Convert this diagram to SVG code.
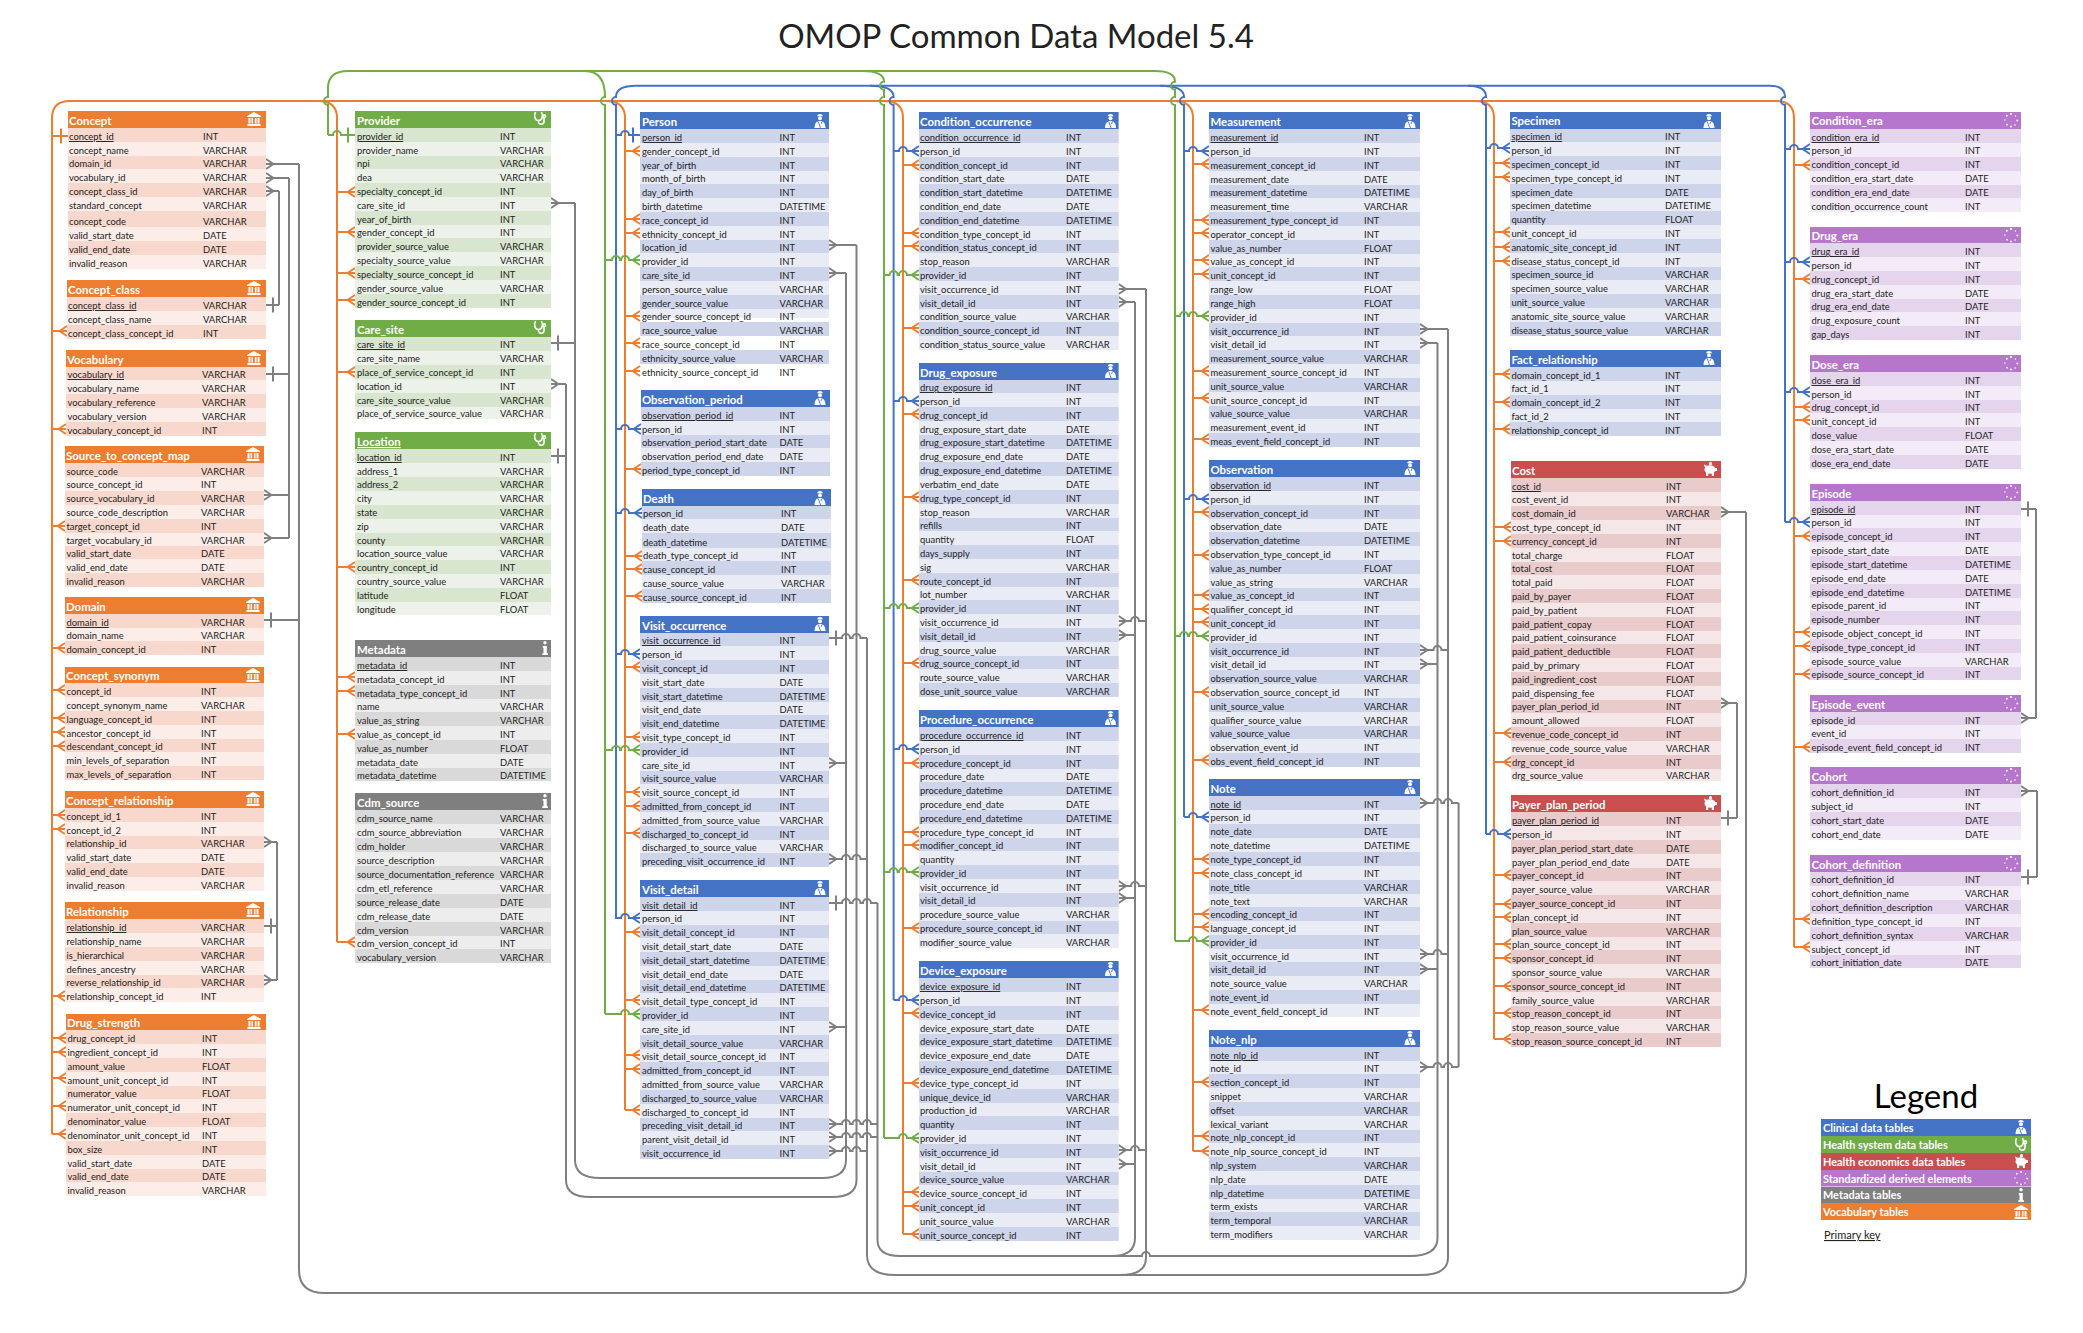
<svg xmlns="http://www.w3.org/2000/svg" width="2083" height="1333" viewBox="0 0 2083 1333">
<style>
text{font-family:Lato,"Noto Sans","Liberation Sans",sans-serif;fill:#222}
.nm text,.ty text{font-size:9.4px}
.u{text-decoration:underline}
.ht{font-size:11.4px;font-weight:700;fill:#fff}
#legend .ht{font-size:10.9px}
.or .hd{fill:#ED7D31}.or .lt{fill:#FCEDE8}.or .dk{fill:#F8D8CC}
.gr .hd{fill:#70AD47}.gr .lt{fill:#ECF2E9}.gr .dk{fill:#D8E5CF}
.bl .hd{fill:#4472C4}.bl .lt{fill:#E9EBF5}.bl .dk{fill:#CED4EA}
.gy .hd{fill:#7F7F7F}.gy .lt{fill:#EDEDED}.gy .dk{fill:#D9D9D9}
.rd .hd{fill:#C94F4F}.rd .lt{fill:#F5E7E7}.rd .dk{fill:#E9CBCC}
.pu .hd{fill:#B576CC}.pu .lt{fill:#F3EBF7}.pu .dk{fill:#E4D5ED}
.c path{fill:none;stroke-width:2}
.o path{stroke:#ED7D31}.b path{stroke:#4472C4}.g path{stroke:#70AD47}.k path{stroke:#7F7F7F}
.o.f path{marker-end:url(#fo)}.o.t path{marker-end:url(#to)}
.b.f path{marker-end:url(#fb)}.b.t path{marker-end:url(#tb)}
.g.f path{marker-end:url(#fg)}.g.t path{marker-end:url(#tg)}
.k.f path{marker-end:url(#fk)}.k.t path{marker-end:url(#tk)}
</style>
<defs>
<marker id="fo" markerUnits="userSpaceOnUse" markerWidth="20" markerHeight="20" refX="18" refY="10" orient="auto"><path d="M10.5 10L18 5M10.5 10L18 15" fill="none" stroke="#ED7D31" stroke-width="2"/></marker>
<marker id="fb" markerUnits="userSpaceOnUse" markerWidth="20" markerHeight="20" refX="18" refY="10" orient="auto"><path d="M10.5 10L18 5M10.5 10L18 15" fill="none" stroke="#4472C4" stroke-width="2"/></marker>
<marker id="fg" markerUnits="userSpaceOnUse" markerWidth="20" markerHeight="20" refX="18" refY="10" orient="auto"><path d="M10.5 10L18 5M10.5 10L18 15" fill="none" stroke="#70AD47" stroke-width="2"/></marker>
<marker id="fk" markerUnits="userSpaceOnUse" markerWidth="20" markerHeight="20" refX="18" refY="10" orient="auto"><path d="M10.5 10L18 5M10.5 10L18 15" fill="none" stroke="#7F7F7F" stroke-width="2"/></marker>
<marker id="to" markerUnits="userSpaceOnUse" markerWidth="20" markerHeight="20" refX="18" refY="10" orient="auto"><path d="M11 2.5V17.5" fill="none" stroke="#ED7D31" stroke-width="2"/></marker>
<marker id="tb" markerUnits="userSpaceOnUse" markerWidth="20" markerHeight="20" refX="18" refY="10" orient="auto"><path d="M11 2.5V17.5" fill="none" stroke="#4472C4" stroke-width="2"/></marker>
<marker id="tg" markerUnits="userSpaceOnUse" markerWidth="20" markerHeight="20" refX="18" refY="10" orient="auto"><path d="M11 2.5V17.5" fill="none" stroke="#70AD47" stroke-width="2"/></marker>
<marker id="tk" markerUnits="userSpaceOnUse" markerWidth="20" markerHeight="20" refX="18" refY="10" orient="auto"><path d="M11 2.5V17.5" fill="none" stroke="#7F7F7F" stroke-width="2"/></marker>
<g id="ibank" fill="#fff"><path d="M7 0L14 4V5H0V4Z"/><path d="M1.5 6h2v5.5h-2zM4.5 6h1.6v5.5H4.500zM7.900 6h1.600v5.500H7.900zM10.500 6h2v5.500h-2zM.5 12h13v2H.5z"/></g>
<g id="isteth" fill="none" stroke="#fff" stroke-width="1.600"><path d="M2.500 1C.5 5 2 9.500 5.500 9.500S10.500 5 8.500 1"/><path d="M5.500 9.500V11c0 3 5.500 3 5.500-.5V7"/><circle cx="11.200" cy="5.200" r="1.300"/></g>
<g id="idoc" fill="#fff"><path d="M4.200 2.200C4.200-.6 9.800-.6 9.800 2.200z"/><circle cx="7" cy="4.300" r="2"/><path d="M7 7C3.500 7 1.600 9.500 1.500 14H12.500C12.400 9.500 10.500 7 7 7z"/><path d="M5.200 7.500L7.500 14M9 7.500L8 10" fill="none" stroke="#4472C4" stroke-width=".9"/></g>
<g id="iinfo" fill="#fff"><circle cx="7" cy="1.800" r="1.700"/><path d="M4.800 5H8.800V12.300H10V14H4.300V12.300H5.500V6.700H4.800z"/></g>
<g id="ipig" fill="#fff"><ellipse cx="7" cy="7.500" rx="5.500" ry="4.300"/><circle cx="7.500" cy="1.700" r="1.600"/><path d="M3 10h2.200v4H3zM8.800 10H11v4H8.800zM11 6h3v3h-3zM1 2.500L4.500 4 2 6z"/></g>
<g id="idots" fill="#fff"><circle cx="7" cy="1" r="1.100"/><circle cx="11.500" cy="3" r=".7"/><circle cx="13.300" cy="7.500" r="1"/><circle cx="11" cy="12" r=".8"/><circle cx="7" cy="13.500" r="1.100"/><circle cx="3" cy="11.700" r=".9"/><circle cx=".9" cy="7" r=".7"/><circle cx="2.800" cy="2.800" r="1"/></g>
</defs>
<rect width="2083" height="1333" fill="#fff"/>
<text x="1016" y="48" text-anchor="middle" style="font-size:33px">OMOP Common Data Model 5.4</text>

<g id="connectors" class="c">
<g class="k">
<path d="M299 164V1270Q299 1293 325 1293H1722Q1746 1293 1746 1272V512"/>
<path d="M289 178V538"/><path d="M279 191V305"/><path d="M277 842V980"/>
<path d="M575 203V1160Q575 1178 600 1178H822Q846 1178 846 1160V273"/>
<path d="M566 384V1180Q566 1197 590 1197H832Q856.500 1197 856.500 1180V245"/>
<path d="M867 638V1255Q867 1275 895 1275H1420Q1448 1275 1448 1258V329"/>
<path d="M1120 1275Q1146 1275 1146 1258V289"/>
<path d="M877.500 903V1240Q877.500 1256 900 1256H1142a4 4 0 0 1 8 0H1410Q1437.500 1256 1437.500 1238V343"/>
<path d="M1112 1256Q1135 1256 1135 1238V302"/>
<path d="M1458.600 803V1067"/><path d="M1737 703V818"/><path d="M2036 509V718"/><path d="M2037 791V877"/>
</g>
<g class="k f">
<path d="M299 164H266"/><path d="M1746 512H1721"/>
<path d="M289 178H266"/><path d="M289 495H264"/><path d="M289 538H264"/>
<path d="M279 191H266"/><path d="M277 842H264"/><path d="M277 980H264"/>
<path d="M575 203H551"/><path d="M846 273H829"/><path d="M846 763H829"/><path d="M846 1027H829"/>
<path d="M566 384H551"/><path d="M856.500 245H829"/>
<path d="M867 859H860.500a4 4 0 0 0-8 0H850a4 4 0 0 0-8 0H829"/>
<path d="M867 1151H860.500a4 4 0 0 0-8 0H850a4 4 0 0 0-8 0H829"/>
<path d="M877.500 1124H871a4 4 0 0 0-8 0H860.500a4 4 0 0 0-8 0H850a4 4 0 0 0-8 0H829"/>
<path d="M877.500 1137H871a4 4 0 0 0-8 0H860.500a4 4 0 0 0-8 0H850a4 4 0 0 0-8 0H829"/>
<path d="M1146 289H1118.600"/><path d="M1135 302H1118.600"/>
<path d="M1146 621H1139a4 4 0 0 0-8 0H1118.600"/><path d="M1135 635H1118.600"/>
<path d="M1146 886H1139a4 4 0 0 0-8 0H1118.600"/><path d="M1135 898H1118.600"/>
<path d="M1146 1150H1139a4 4 0 0 0-8 0H1118.600"/><path d="M1135 1164H1118.600"/>
<path d="M1448 329H1420"/><path d="M1437.500 343H1420"/>
<path d="M1448 650H1441.500a4 4 0 0 0-8 0H1420"/><path d="M1437.500 664H1420"/>
<path d="M1448 954H1441.500a4 4 0 0 0-8 0H1420"/><path d="M1437.500 969H1420"/>
<path d="M1458.600 803H1452a4 4 0 0 0-8 0H1441.500a4 4 0 0 0-8 0H1420"/>
<path d="M1458.600 1067H1452a4 4 0 0 0-8 0H1441.500a4 4 0 0 0-8 0H1420"/>
<path d="M1737 703H1721"/><path d="M2036 718H2021"/><path d="M2037 791H2021"/>
</g>
<g class="k t">
<path d="M299 620H264"/><path d="M289 374H266"/><path d="M279 305H266"/><path d="M277 926H264"/>
<path d="M575 343H551"/><path d="M566 456H551"/>
<path d="M867 638H860.500a4 4 0 0 0-8 0H850a4 4 0 0 0-8 0H829"/>
<path d="M877.500 903H871a4 4 0 0 0-8 0H860.500a4 4 0 0 0-8 0H850a4 4 0 0 0-8 0H829"/>
<path d="M1737 818H1721"/><path d="M2036 509H2021"/><path d="M2037 877H2021"/>
</g>
<g class="o">
<path d="M52 1134V118Q52 101 70 101H1775Q1794 101 1794 118V947"/>
<path d="M318 101Q337 101 337 118V942"/><path d="M606 101Q625 101 625 118V1110"/>
<path d="M884 101Q903 101 903 118V1234"/><path d="M1174 101Q1193 101 1193 118V1151"/>
<path d="M1475 101Q1494 101 1494 118V1039"/>
</g>
<g class="o t"><path d="M52 136H68"/></g>
<g class="o f">
<path d="M52 331H67"/><path d="M52 429H66"/><path d="M52 526H65"/><path d="M52 648H65"/><path d="M52 690H65"/><path d="M52 718H65"/><path d="M52 732H65"/><path d="M52 746H65"/><path d="M52 815H65"/><path d="M52 829H65"/><path d="M52 996H65"/><path d="M52 1038H66"/><path d="M52 1052H66"/><path d="M52 1078H66"/><path d="M52 1106H66"/><path d="M52 1134H66"/>
<path d="M337 192H355"/><path d="M337 232H355"/><path d="M337 273H355"/><path d="M337 300H355"/><path d="M337 372H355"/><path d="M337 567H355"/><path d="M337 677H355"/><path d="M337 691H355"/><path d="M337 734H355"/><path d="M337 942H355"/>
<path d="M625 151H640"/><path d="M625 219H640"/><path d="M625 233H640"/><path d="M625 316H640"/><path d="M625 343H640"/><path d="M625 371H640"/><path d="M625 469H641"/><path d="M625 556H642"/><path d="M625 569H642"/><path d="M625 596H642"/><path d="M625 667H640"/><path d="M625 737H640"/><path d="M625 792H640"/><path d="M625 806H640"/><path d="M625 833H640"/><path d="M625 932H640"/><path d="M625 1000H640"/><path d="M625 1055H640"/><path d="M625 1069H640"/><path d="M625 1110H640"/>
<path d="M903 165H919"/><path d="M903 233H919"/><path d="M903 246H919"/><path d="M903 328H919"/><path d="M903 414H919"/><path d="M903 497H919"/><path d="M903 580H919"/><path d="M903 663H919"/><path d="M903 763H919"/><path d="M903 832H919"/><path d="M903 845H919"/><path d="M903 928H919"/><path d="M903 1013H919"/><path d="M903 1083H919"/><path d="M903 1192H919"/><path d="M903 1206H919"/><path d="M903 1234H919"/>
<path d="M1193 164H1209"/><path d="M1193 220H1209"/><path d="M1193 233H1209"/><path d="M1193 260H1209"/><path d="M1193 274H1209"/><path d="M1193 371H1209"/><path d="M1193 398H1209"/><path d="M1193 439H1209"/><path d="M1193 512H1209"/><path d="M1193 555H1209"/><path d="M1193 595H1209"/><path d="M1193 609H1209"/><path d="M1193 622H1209"/><path d="M1193 692H1209"/><path d="M1193 760H1209"/><path d="M1193 859H1209"/><path d="M1193 873H1209"/><path d="M1193 914H1209"/><path d="M1193 927H1209"/><path d="M1193 1010H1209"/><path d="M1193 1082H1209"/><path d="M1193 1136H1209"/><path d="M1193 1151H1209"/>
<path d="M1494 163H1510"/><path d="M1494 177H1510"/><path d="M1494 232H1510"/><path d="M1494 247H1510"/><path d="M1494 261H1510"/><path d="M1494 374H1510"/><path d="M1494 402H1510"/><path d="M1494 429H1510"/><path d="M1494 527H1511"/><path d="M1494 541H1511"/><path d="M1494 733H1511"/><path d="M1494 762H1511"/><path d="M1494 875H1511"/><path d="M1494 904H1511"/><path d="M1494 917H1511"/><path d="M1494 944H1511"/><path d="M1494 958H1511"/><path d="M1494 986H1511"/><path d="M1494 1013H1511"/><path d="M1494 1039H1511"/>
<path d="M1794 165H1810"/><path d="M1794 279H1810"/><path d="M1794 407H1810"/><path d="M1794 420H1810"/><path d="M1794 536H1810"/><path d="M1794 632H1810"/><path d="M1794 646H1810"/><path d="M1794 674H1810"/><path d="M1794 747H1810"/><path d="M1794 919H1810"/><path d="M1794 947H1810"/>
</g>
<g class="b">
<path d="M616 919V105a4 4 0 0 1 0-8Q616 85.700 636 85.700H1770Q1785 85.700 1785 97a4 4 0 0 0 0 8V522"/>
<path d="M870 85.700Q893.600 85.700 893.600 97a4 4 0 0 0 0 8V1000"/>
<path d="M1160 85.700Q1184 85.700 1184 97a4 4 0 0 0 0 8V817"/>
<path d="M1468 85.700Q1486 85.700 1486 97a4 4 0 0 0 0 8V834"/>
</g>
<g class="b t"><path d="M616 135H621a4 4 0 0 1 8 0H640"/></g>
<g class="b f">
<path d="M616 429H621a4 4 0 0 1 8 0H641"/><path d="M616 513H621a4 4 0 0 1 8 0H642"/><path d="M616 654H621a4 4 0 0 1 8 0H640"/><path d="M616 918H621a4 4 0 0 1 8 0H640"/>
<path d="M893.600 151H899a4 4 0 0 1 8 0H919"/><path d="M893.600 401H899a4 4 0 0 1 8 0H919"/><path d="M893.600 749H899a4 4 0 0 1 8 0H919"/><path d="M893.600 1000H899a4 4 0 0 1 8 0H919"/>
<path d="M1184 151H1189a4 4 0 0 1 8 0H1209"/><path d="M1184 499H1189a4 4 0 0 1 8 0H1209"/><path d="M1184 817H1189a4 4 0 0 1 8 0H1209"/>
<path d="M1486 148H1490a4 4 0 0 1 8 0H1510"/><path d="M1486 834H1490a4 4 0 0 1 8 0H1511"/>
<path d="M1785 149H1790a4 4 0 0 1 8 0H1810"/><path d="M1785 262H1790a4 4 0 0 1 8 0H1810"/><path d="M1785 392H1790a4 4 0 0 1 8 0H1810"/><path d="M1785 522H1790a4 4 0 0 1 8 0H1810"/>
</g>
<g class="g">
<path d="M328 135V105a4 4 0 0 1 0-8V88Q328 71 348 71H1155Q1175 71 1175 81.700a4 4 0 0 0 0 8V97a4 4 0 0 0 0 8V941"/>
<path d="M585 71Q605 71 605 97a4 4 0 0 0 0 8V1014"/>
<path d="M862 71Q884 71 884 81.700a4 4 0 0 0 0 8V97a4 4 0 0 0 0 8V1138"/>
</g>
<g class="g t"><path d="M328 135H333a4 4 0 0 1 8 0H355"/></g>
<g class="g f">
<path d="M605 260H612a4 4 0 0 1 8 0H621a4 4 0 0 1 8 0H640"/><path d="M605 750H612a4 4 0 0 1 8 0H621a4 4 0 0 1 8 0H640"/><path d="M605 1014H621a4 4 0 0 1 8 0H640"/>
<path d="M884 275H889.600a4 4 0 0 1 8 0H899a4 4 0 0 1 8 0H919"/><path d="M884 608H889.600a4 4 0 0 1 8 0H899a4 4 0 0 1 8 0H919"/><path d="M884 872H889.600a4 4 0 0 1 8 0H899a4 4 0 0 1 8 0H919"/><path d="M884 1138H899a4 4 0 0 1 8 0H919"/>
<path d="M1175 316H1180a4 4 0 0 1 8 0H1189a4 4 0 0 1 8 0H1209"/><path d="M1175 636H1180a4 4 0 0 1 8 0H1189a4 4 0 0 1 8 0H1209"/><path d="M1175 941H1189a4 4 0 0 1 8 0H1209"/>
</g>
</g>

<g id="concept" class="or"><rect class="hd" x="68" y="111" width="198" height="17"/><text class="ht" x="69" y="125">Concept</text><use href="#ibank" x="247" y="112"/><rect class="lt" x="68" y="128" width="198" height="141"/><path class="dk" d="M68 128H266V142H68ZM68 156H266V169H68ZM68 183H266V197H68ZM68 211H266V227H68ZM68 241H266V255H68Z"/>
<g class="nm" transform="translate(69)"><text y="140" class="u">concept_id</text><text y="154">concept_name</text><text y="167">domain_id</text><text y="181">vocabulary_id</text><text y="195">concept_class_id</text><text y="209">standard_concept</text><text y="225">concept_code</text><text y="239">valid_start_date</text><text y="253">valid_end_date</text><text y="267">invalid_reason</text></g>
<g class="ty" transform="translate(203)"><text y="140">INT</text><text y="154">VARCHAR</text><text y="167">VARCHAR</text><text y="181">VARCHAR</text><text y="195">VARCHAR</text><text y="209">VARCHAR</text><text y="225">VARCHAR</text><text y="239">DATE</text><text y="253">DATE</text><text y="267">VARCHAR</text></g></g>

<g id="concept_class" class="or"><rect class="hd" x="67" y="280" width="199" height="17"/><text class="ht" x="68" y="294">Concept_class</text><use href="#ibank" x="247" y="281"/><rect class="lt" x="67" y="297" width="199" height="42"/><path class="dk" d="M67 297H266V311H67ZM67 325H266V339H67Z"/>
<g class="nm" transform="translate(68)"><text y="309" class="u">concept_class_id</text><text y="323">concept_class_name</text><text y="337">concept_class_concept_id</text></g>
<g class="ty" transform="translate(203)"><text y="309">VARCHAR</text><text y="323">VARCHAR</text><text y="337">INT</text></g></g>

<g id="vocabulary" class="or"><rect class="hd" x="66" y="350" width="200" height="17"/><text class="ht" x="67" y="364">Vocabulary</text><use href="#ibank" x="247" y="351"/><rect class="lt" x="66" y="367" width="200" height="69"/><path class="dk" d="M66 367H266V380H66ZM66 394H266V408H66ZM66 422H266V436H66Z"/>
<g class="nm" transform="translate(67.500)"><text y="378" class="u">vocabulary_id</text><text y="392">vocabulary_name</text><text y="406">vocabulary_reference</text><text y="420">vocabulary_version</text><text y="434">vocabulary_concept_id</text></g>
<g class="ty" transform="translate(202)"><text y="378">VARCHAR</text><text y="392">VARCHAR</text><text y="406">VARCHAR</text><text y="420">VARCHAR</text><text y="434">INT</text></g></g>

<g id="source_to_concept_map" class="or"><rect class="hd" x="65" y="446" width="199" height="17"/><text class="ht" x="66" y="460">Source_to_concept_map</text><use href="#ibank" x="246" y="447"/><rect class="lt" x="65" y="463" width="199" height="124"/><path class="dk" d="M65 463H264V477H65ZM65 491H264V505H65ZM65 519H264V533H65ZM65 546H264V559H65ZM65 573H264V587H65Z"/>
<g class="nm" transform="translate(66.500)"><text y="475">source_code</text><text y="488">source_concept_id</text><text y="502">source_vocabulary_id</text><text y="516">source_code_description</text><text y="530">target_concept_id</text><text y="544">target_vocabulary_id</text><text y="557">valid_start_date</text><text y="571">valid_end_date</text><text y="585">invalid_reason</text></g>
<g class="ty" transform="translate(201)"><text y="475">VARCHAR</text><text y="488">INT</text><text y="502">VARCHAR</text><text y="516">VARCHAR</text><text y="530">INT</text><text y="544">VARCHAR</text><text y="557">DATE</text><text y="571">DATE</text><text y="585">VARCHAR</text></g></g>

<g id="domain" class="or"><rect class="hd" x="65" y="597" width="199" height="17"/><text class="ht" x="66" y="611">Domain</text><use href="#ibank" x="246" y="598"/><rect class="lt" x="65" y="614" width="199" height="41"/><path class="dk" d="M65 614H264V628H65ZM65 641H264V655H65Z"/>
<g class="nm" transform="translate(66.500)"><text y="626" class="u">domain_id</text><text y="639">domain_name</text><text y="653">domain_concept_id</text></g>
<g class="ty" transform="translate(201)"><text y="626">VARCHAR</text><text y="639">VARCHAR</text><text y="653">INT</text></g></g>

<g id="concept_synonym" class="or"><rect class="hd" x="65" y="667" width="199" height="16"/><text class="ht" x="66" y="680">Concept_synonym</text><use href="#ibank" x="246" y="668"/><rect class="lt" x="65" y="683" width="199" height="97"/><path class="dk" d="M65 683H264V697H65ZM65 711H264V725H65ZM65 739H264V752H65ZM65 766H264V780H65Z"/>
<g class="nm" transform="translate(66.500)"><text y="695">concept_id</text><text y="709">concept_synonym_name</text><text y="723">language_concept_id</text><text y="737">ancestor_concept_id</text><text y="750">descendant_concept_id</text><text y="764">min_levels_of_separation</text><text y="778">max_levels_of_separation</text></g>
<g class="ty" transform="translate(201)"><text y="695">INT</text><text y="709">VARCHAR</text><text y="723">INT</text><text y="737">INT</text><text y="750">INT</text><text y="764">INT</text><text y="778">INT</text></g></g>

<g id="concept_relationship" class="or"><rect class="hd" x="65" y="791" width="199" height="17"/><text class="ht" x="66" y="805">Concept_relationship</text><use href="#ibank" x="246" y="792"/><rect class="lt" x="65" y="808" width="199" height="83"/><path class="dk" d="M65 808H264V822H65ZM65 836H264V849H65ZM65 863H264V877H65Z"/>
<g class="nm" transform="translate(66.500)"><text y="820">concept_id_1</text><text y="834">concept_id_2</text><text y="847">relationship_id</text><text y="861">valid_start_date</text><text y="875">valid_end_date</text><text y="889">invalid_reason</text></g>
<g class="ty" transform="translate(201)"><text y="820">INT</text><text y="834">INT</text><text y="847">VARCHAR</text><text y="861">DATE</text><text y="875">DATE</text><text y="889">VARCHAR</text></g></g>

<g id="relationship" class="or"><rect class="hd" x="65" y="902" width="199" height="17"/><text class="ht" x="66" y="916">Relationship</text><use href="#ibank" x="246" y="903"/><rect class="lt" x="65" y="919" width="199" height="83"/><path class="dk" d="M65 919H264V933H65ZM65 947H264V961H65ZM65 975H264V988H65Z"/>
<g class="nm" transform="translate(66.500)"><text y="931" class="u">relationship_id</text><text y="945">relationship_name</text><text y="959">is_hierarchical</text><text y="973">defines_ancestry</text><text y="986">reverse_relationship_id</text><text y="1000">relationship_concept_id</text></g>
<g class="ty" transform="translate(201)"><text y="931">VARCHAR</text><text y="945">VARCHAR</text><text y="959">VARCHAR</text><text y="973">VARCHAR</text><text y="986">VARCHAR</text><text y="1000">INT</text></g></g>

<g id="drug_strength" class="or"><rect class="hd" x="66" y="1014" width="200" height="16"/><text class="ht" x="67" y="1027">Drug_strength</text><use href="#ibank" x="247" y="1015"/><rect class="lt" x="66" y="1030" width="200" height="166"/><path class="dk" d="M66 1030H266V1044H66ZM66 1058H266V1072H66ZM66 1086H266V1099H66ZM66 1113H266V1127H66ZM66 1141H266V1155H66ZM66 1169H266V1182H66Z"/>
<g class="nm" transform="translate(67.500)"><text y="1042">drug_concept_id</text><text y="1056">ingredient_concept_id</text><text y="1070">amount_value</text><text y="1084">amount_unit_concept_id</text><text y="1097">numerator_value</text><text y="1111">numerator_unit_concept_id</text><text y="1125">denominator_value</text><text y="1139">denominator_unit_concept_id</text><text y="1153">box_size</text><text y="1167">valid_start_date</text><text y="1180">valid_end_date</text><text y="1194">invalid_reason</text></g>
<g class="ty" transform="translate(202)"><text y="1042">INT</text><text y="1056">INT</text><text y="1070">FLOAT</text><text y="1084">INT</text><text y="1097">FLOAT</text><text y="1111">INT</text><text y="1125">FLOAT</text><text y="1139">INT</text><text y="1153">INT</text><text y="1167">DATE</text><text y="1180">DATE</text><text y="1194">VARCHAR</text></g></g>

<g id="provider" class="gr"><rect class="hd" x="355" y="111" width="196" height="17"/><text class="ht" x="357" y="125">Provider</text><use href="#isteth" x="533" y="111"/><rect class="lt" x="355" y="128" width="196" height="180"/><path class="dk" d="M355 128H551V142H355ZM355 156H551V169H355ZM355 183H551V197H355ZM355 211H551V225H355ZM355 238H551V252H355ZM355 266H551V280H355ZM355 294H551V308H355Z"/>
<g class="nm" transform="translate(357)"><text y="140" class="u">provider_id</text><text y="154">provider_name</text><text y="167">npi</text><text y="181">dea</text><text y="195">specialty_concept_id</text><text y="209">care_site_id</text><text y="223">year_of_birth</text><text y="236">gender_concept_id</text><text y="250">provider_source_value</text><text y="264">specialty_source_value</text><text y="278">specialty_source_concept_id</text><text y="292">gender_source_value</text><text y="306">gender_source_concept_id</text></g>
<g class="ty" transform="translate(500)"><text y="140">INT</text><text y="154">VARCHAR</text><text y="167">VARCHAR</text><text y="181">VARCHAR</text><text y="195">INT</text><text y="209">INT</text><text y="223">INT</text><text y="236">INT</text><text y="250">VARCHAR</text><text y="264">VARCHAR</text><text y="278">INT</text><text y="292">VARCHAR</text><text y="306">INT</text></g></g>

<g id="care_site" class="gr"><rect class="hd" x="355" y="320" width="196" height="17"/><text class="ht" x="357" y="334">Care_site</text><use href="#isteth" x="533" y="320"/><rect class="lt" x="355" y="337" width="196" height="82"/><path class="dk" d="M355 337H551V351H355ZM355 365H551V379H355ZM355 393H551V407H355Z"/>
<g class="nm" transform="translate(357)"><text y="348" class="u">care_site_id</text><text y="362">care_site_name</text><text y="376">place_of_service_concept_id</text><text y="390">location_id</text><text y="404">care_site_source_value</text><text y="417">place_of_service_source_value</text></g>
<g class="ty" transform="translate(500)"><text y="348">INT</text><text y="362">VARCHAR</text><text y="376">INT</text><text y="390">INT</text><text y="404">VARCHAR</text><text y="417">VARCHAR</text></g></g>

<g id="location" class="gr"><rect class="hd" x="355" y="432" width="196" height="17"/><text class="ht u" x="357" y="446">Location</text><use href="#isteth" x="533" y="432"/><rect class="lt" x="355" y="449" width="196" height="166"/><path class="dk" d="M355 449H551V463H355ZM355 477H551V491H355ZM355 505H551V519H355ZM355 533H551V546H355ZM355 560H551V574H355ZM355 588H551V602H355Z"/>
<g class="nm" transform="translate(357)"><text y="461" class="u">location_id</text><text y="475">address_1</text><text y="488">address_2</text><text y="502">city</text><text y="516">state</text><text y="530">zip</text><text y="544">county</text><text y="557">location_source_value</text><text y="571">country_concept_id</text><text y="585">country_source_value</text><text y="599">latitude</text><text y="613">longitude</text></g>
<g class="ty" transform="translate(500)"><text y="461">INT</text><text y="475">VARCHAR</text><text y="488">VARCHAR</text><text y="502">VARCHAR</text><text y="516">VARCHAR</text><text y="530">VARCHAR</text><text y="544">VARCHAR</text><text y="557">VARCHAR</text><text y="571">INT</text><text y="585">VARCHAR</text><text y="599">FLOAT</text><text y="613">FLOAT</text></g></g>

<g id="metadata" class="gy"><rect class="hd" x="355" y="640" width="196" height="17"/><text class="ht" x="357" y="654">Metadata</text><use href="#iinfo" x="538" y="641"/><rect class="lt" x="355" y="657" width="196" height="124"/><path class="dk" d="M355 657H551V671H355ZM355 685H551V699H355ZM355 712H551V726H355ZM355 740H551V754H355ZM355 768H551V781H355Z"/>
<g class="nm" transform="translate(357)"><text y="669" class="u">metadata_id</text><text y="683">metadata_concept_id</text><text y="697">metadata_type_concept_id</text><text y="710">name</text><text y="724">value_as_string</text><text y="738">value_as_concept_id</text><text y="752">value_as_number</text><text y="766">metadata_date</text><text y="779">metadata_datetime</text></g>
<g class="ty" transform="translate(500)"><text y="669">INT</text><text y="683">INT</text><text y="697">INT</text><text y="710">VARCHAR</text><text y="724">VARCHAR</text><text y="738">INT</text><text y="752">FLOAT</text><text y="766">DATE</text><text y="779">DATETIME</text></g></g>

<g id="cdm_source" class="gy"><rect class="hd" x="355" y="793" width="196" height="17"/><text class="ht" x="357" y="807">Cdm_source</text><use href="#iinfo" x="538" y="794"/><rect class="lt" x="355" y="810" width="196" height="153"/><path class="dk" d="M355 810H551V824H355ZM355 838H551V852H355ZM355 866H551V880H355ZM355 894H551V908H355ZM355 922H551V936H355ZM355 949H551V963H355Z"/>
<g class="nm" transform="translate(357)"><text y="822">cdm_source_name</text><text y="836">cdm_source_abbreviation</text><text y="850">cdm_holder</text><text y="864">source_description</text><text y="878">source_documentation_reference</text><text y="892">cdm_etl_reference</text><text y="906">source_release_date</text><text y="920">cdm_release_date</text><text y="934">cdm_version</text><text y="947">cdm_version_concept_id</text><text y="961">vocabulary_version</text></g>
<g class="ty" transform="translate(500)"><text y="822">VARCHAR</text><text y="836">VARCHAR</text><text y="850">VARCHAR</text><text y="864">VARCHAR</text><text y="878">VARCHAR</text><text y="892">VARCHAR</text><text y="906">DATE</text><text y="920">DATE</text><text y="934">VARCHAR</text><text y="947">INT</text><text y="961">VARCHAR</text></g></g>

<g id="person" class="bl"><rect class="hd" x="640" y="112" width="189" height="17"/><text class="ht" x="642" y="126">Person</text><use href="#idoc" x="813" y="114"/><rect class="lt" x="640" y="129" width="189" height="189"/><path class="dk" d="M640 129H829V143H640ZM640 157H829V171H640ZM640 184H829V198H640ZM640 212H829V226H640ZM640 240H829V253H640ZM640 267H829V281H640ZM640 295H829V309H640ZM640 322H829V336H640ZM640 350H829V364H640Z"/>
<g class="nm" transform="translate(642)"><text y="141" class="u">person_id</text><text y="155">gender_concept_id</text><text y="169">year_of_birth</text><text y="182">month_of_birth</text><text y="196">day_of_birth</text><text y="210">birth_datetime</text><text y="224">race_concept_id</text><text y="238">ethnicity_concept_id</text><text y="251">location_id</text><text y="265">provider_id</text><text y="279">care_site_id</text><text y="293">person_source_value</text><text y="307">gender_source_value</text><text y="320">gender_source_concept_id</text><text y="334">race_source_value</text><text y="348">race_source_concept_id</text><text y="362">ethnicity_source_value</text><text y="376">ethnicity_source_concept_id</text></g>
<g class="ty" transform="translate(779.600)"><text y="141">INT</text><text y="155">INT</text><text y="169">INT</text><text y="182">INT</text><text y="196">INT</text><text y="210">DATETIME</text><text y="224">INT</text><text y="238">INT</text><text y="251">INT</text><text y="265">INT</text><text y="279">INT</text><text y="293">VARCHAR</text><text y="307">VARCHAR</text><text y="320">INT</text><text y="334">VARCHAR</text><text y="348">INT</text><text y="362">VARCHAR</text><text y="376">INT</text></g></g>

<g id="observation_period" class="bl"><rect class="hd" x="641" y="390" width="189" height="17"/><text class="ht" x="642" y="404">Observation_period</text><use href="#idoc" x="813" y="391"/><rect class="lt" x="641" y="407" width="189" height="69"/><path class="dk" d="M641 407H830V421H641ZM641 435H830V448H641ZM641 462H830V476H641Z"/>
<g class="nm" transform="translate(642)"><text y="419" class="u">observation_period_id</text><text y="433">person_id</text><text y="446">observation_period_start_date</text><text y="460">observation_period_end_date</text><text y="474">period_type_concept_id</text></g>
<g class="ty" transform="translate(779.600)"><text y="419">INT</text><text y="433">INT</text><text y="446">DATE</text><text y="460">DATE</text><text y="474">INT</text></g></g>

<g id="death" class="bl"><rect class="hd" x="642" y="489" width="189" height="17"/><text class="ht" x="643" y="503">Death</text><use href="#idoc" x="813" y="491"/><rect class="lt" x="642" y="506" width="189" height="97"/><path class="dk" d="M642 506H831V519H642ZM642 533H831V548H642ZM642 561H831V575H642ZM642 589H831V603H642Z"/>
<g class="nm" transform="translate(643)"><text y="517">person_id</text><text y="531">death_date</text><text y="546">death_datetime</text><text y="559">death_type_concept_id</text><text y="573">cause_concept_id</text><text y="587">cause_source_value</text><text y="601">cause_source_concept_id</text></g>
<g class="ty" transform="translate(781)"><text y="517">INT</text><text y="531">DATE</text><text y="546">DATETIME</text><text y="559">INT</text><text y="573">INT</text><text y="587">VARCHAR</text><text y="601">INT</text></g></g>

<g id="visit_occurrence" class="bl"><rect class="hd" x="640" y="616" width="189" height="17"/><text class="ht" x="642" y="630">Visit_occurrence</text><use href="#idoc" x="813" y="617"/><rect class="lt" x="640" y="633" width="189" height="234"/><path class="dk" d="M640 633H829V646H640ZM640 660H829V674H640ZM640 688H829V702H640ZM640 715H829V729H640ZM640 743H829V757H640ZM640 771H829V784H640ZM640 798H829V812H640ZM640 826H829V840H640ZM640 853H829V867H640Z"/>
<g class="nm" transform="translate(642)"><text y="644" class="u">visit_occurrence_id</text><text y="658">person_id</text><text y="672">visit_concept_id</text><text y="686">visit_start_date</text><text y="700">visit_start_datetime</text><text y="713">visit_end_date</text><text y="727">visit_end_datetime</text><text y="741">visit_type_concept_id</text><text y="755">provider_id</text><text y="769">care_site_id</text><text y="782">visit_source_value</text><text y="796">visit_source_concept_id</text><text y="810">admitted_from_concept_id</text><text y="824">admitted_from_source_value</text><text y="838">discharged_to_concept_id</text><text y="851">discharged_to_source_value</text><text y="865">preceding_visit_occurrence_id</text></g>
<g class="ty" transform="translate(779.600)"><text y="644">INT</text><text y="658">INT</text><text y="672">INT</text><text y="686">DATE</text><text y="700">DATETIME</text><text y="713">DATE</text><text y="727">DATETIME</text><text y="741">INT</text><text y="755">INT</text><text y="769">INT</text><text y="782">VARCHAR</text><text y="796">INT</text><text y="810">INT</text><text y="824">VARCHAR</text><text y="838">INT</text><text y="851">VARCHAR</text><text y="865">INT</text></g></g>

<g id="visit_detail" class="bl"><rect class="hd" x="640" y="880" width="189" height="17"/><text class="ht" x="642" y="894">Visit_detail</text><use href="#idoc" x="813" y="881"/><rect class="lt" x="640" y="897" width="189" height="262"/><path class="dk" d="M640 897H829V911H640ZM640 925H829V938H640ZM640 952H829V966H640ZM640 980H829V993H640ZM640 1007H829V1021H640ZM640 1035H829V1049H640ZM640 1062H829V1076H640ZM640 1090H829V1104H640ZM640 1118H829V1131H640ZM640 1145H829V1159H640Z"/>
<g class="nm" transform="translate(642)"><text y="909" class="u">visit_detail_id</text><text y="922">person_id</text><text y="936">visit_detail_concept_id</text><text y="950">visit_detail_start_date</text><text y="964">visit_detail_start_datetime</text><text y="978">visit_detail_end_date</text><text y="991">visit_detail_end_datetime</text><text y="1005">visit_detail_type_concept_id</text><text y="1019">provider_id</text><text y="1033">care_site_id</text><text y="1047">visit_detail_source_value</text><text y="1060">visit_detail_source_concept_id</text><text y="1074">admitted_from_concept_id</text><text y="1088">admitted_from_source_value</text><text y="1102">discharged_to_source_value</text><text y="1116">discharged_to_concept_id</text><text y="1129">preceding_visit_detail_id</text><text y="1143">parent_visit_detail_id</text><text y="1157">visit_occurrence_id</text></g>
<g class="ty" transform="translate(779.600)"><text y="909">INT</text><text y="922">INT</text><text y="936">INT</text><text y="950">DATE</text><text y="964">DATETIME</text><text y="978">DATE</text><text y="991">DATETIME</text><text y="1005">INT</text><text y="1019">INT</text><text y="1033">INT</text><text y="1047">VARCHAR</text><text y="1060">INT</text><text y="1074">INT</text><text y="1088">VARCHAR</text><text y="1102">VARCHAR</text><text y="1116">INT</text><text y="1129">INT</text><text y="1143">INT</text><text y="1157">INT</text></g></g>

<g id="condition_occurrence" class="bl"><rect class="hd" x="919" y="112" width="199.600" height="17"/><text class="ht" x="920" y="126">Condition_occurrence</text><use href="#idoc" x="1103.500" y="114"/><rect class="lt" x="919" y="129" width="199.600" height="221"/><path class="dk" d="M919 129H1118.600V143H919ZM919 157H1118.600V171H919ZM919 184H1118.600V198H919ZM919 212H1118.600V226H919ZM919 240H1118.600V253H919ZM919 267H1118.600V281H919ZM919 295H1118.600V309H919ZM919 322H1118.600V336H919Z"/>
<g class="nm" transform="translate(920)"><text y="141" class="u">condition_occurrence_id</text><text y="155">person_id</text><text y="169">condition_concept_id</text><text y="182">condition_start_date</text><text y="196">condition_start_datetime</text><text y="210">condition_end_date</text><text y="224">condition_end_datetime</text><text y="238">condition_type_concept_id</text><text y="251">condition_status_concept_id</text><text y="265">stop_reason</text><text y="279">provider_id</text><text y="293">visit_occurrence_id</text><text y="307">visit_detail_id</text><text y="320">condition_source_value</text><text y="334">condition_source_concept_id</text><text y="348">condition_status_source_value</text></g>
<g class="ty" transform="translate(1066)"><text y="141">INT</text><text y="155">INT</text><text y="169">INT</text><text y="182">DATE</text><text y="196">DATETIME</text><text y="210">DATE</text><text y="224">DATETIME</text><text y="238">INT</text><text y="251">INT</text><text y="265">VARCHAR</text><text y="279">INT</text><text y="293">INT</text><text y="307">INT</text><text y="320">VARCHAR</text><text y="334">INT</text><text y="348">VARCHAR</text></g></g>

<g id="drug_exposure" class="bl"><rect class="hd" x="919" y="363" width="199.600" height="17"/><text class="ht" x="920" y="377">Drug_exposure</text><use href="#idoc" x="1103.500" y="364"/><rect class="lt" x="919" y="380" width="199.600" height="317"/><path class="dk" d="M919 380H1118.600V393H919ZM919 407H1118.600V421H919ZM919 435H1118.600V449H919ZM919 462H1118.600V476H919ZM919 490H1118.600V504H919ZM919 518H1118.600V531H919ZM919 545H1118.600V559H919ZM919 573H1118.600V587H919ZM919 600H1118.600V614H919ZM919 628H1118.600V642H919ZM919 656H1118.600V669H919ZM919 683H1118.600V697H919Z"/>
<g class="nm" transform="translate(920)"><text y="391" class="u">drug_exposure_id</text><text y="405">person_id</text><text y="419">drug_concept_id</text><text y="433">drug_exposure_start_date</text><text y="446">drug_exposure_start_datetime</text><text y="460">drug_exposure_end_date</text><text y="474">drug_exposure_end_datetime</text><text y="488">verbatim_end_date</text><text y="502">drug_type_concept_id</text><text y="516">stop_reason</text><text y="529">refills</text><text y="543">quantity</text><text y="557">days_supply</text><text y="571">sig</text><text y="585">route_concept_id</text><text y="598">lot_number</text><text y="612">provider_id</text><text y="626">visit_occurrence_id</text><text y="640">visit_detail_id</text><text y="654">drug_source_value</text><text y="667">drug_source_concept_id</text><text y="681">route_source_value</text><text y="695">dose_unit_source_value</text></g>
<g class="ty" transform="translate(1066)"><text y="391">INT</text><text y="405">INT</text><text y="419">INT</text><text y="433">DATE</text><text y="446">DATETIME</text><text y="460">DATE</text><text y="474">DATETIME</text><text y="488">DATE</text><text y="502">INT</text><text y="516">VARCHAR</text><text y="529">INT</text><text y="543">FLOAT</text><text y="557">INT</text><text y="571">VARCHAR</text><text y="585">INT</text><text y="598">VARCHAR</text><text y="612">INT</text><text y="626">INT</text><text y="640">INT</text><text y="654">VARCHAR</text><text y="667">INT</text><text y="681">VARCHAR</text><text y="695">VARCHAR</text></g></g>

<g id="procedure_occurrence" class="bl"><rect class="hd" x="919" y="710" width="199.600" height="17"/><text class="ht" x="920" y="724">Procedure_occurrence</text><use href="#idoc" x="1103.500" y="711"/><rect class="lt" x="919" y="727" width="199.600" height="221"/><path class="dk" d="M919 727H1118.600V741H919ZM919 755H1118.600V769H919ZM919 782H1118.600V796H919ZM919 810H1118.600V824H919ZM919 838H1118.600V851H919ZM919 865H1118.600V879H919ZM919 893H1118.600V907H919ZM919 921H1118.600V934H919Z"/>
<g class="nm" transform="translate(920)"><text y="739" class="u">procedure_occurrence_id</text><text y="753">person_id</text><text y="767">procedure_concept_id</text><text y="780">procedure_date</text><text y="794">procedure_datetime</text><text y="808">procedure_end_date</text><text y="822">procedure_end_datetime</text><text y="836">procedure_type_concept_id</text><text y="849">modifier_concept_id</text><text y="863">quantity</text><text y="877">provider_id</text><text y="891">visit_occurrence_id</text><text y="904">visit_detail_id</text><text y="918">procedure_source_value</text><text y="932">procedure_source_concept_id</text><text y="946">modifier_source_value</text></g>
<g class="ty" transform="translate(1066)"><text y="739">INT</text><text y="753">INT</text><text y="767">INT</text><text y="780">DATE</text><text y="794">DATETIME</text><text y="808">DATE</text><text y="822">DATETIME</text><text y="836">INT</text><text y="849">INT</text><text y="863">INT</text><text y="877">INT</text><text y="891">INT</text><text y="904">INT</text><text y="918">VARCHAR</text><text y="932">INT</text><text y="946">VARCHAR</text></g></g>

<g id="device_exposure" class="bl"><rect class="hd" x="919" y="961" width="199.600" height="17"/><text class="ht" x="920" y="975">Device_exposure</text><use href="#idoc" x="1103.500" y="962"/><rect class="lt" x="919" y="978" width="199.600" height="263"/><path class="dk" d="M919 978H1118.600V992H919ZM919 1006H1118.600V1020H919ZM919 1034H1118.600V1047H919ZM919 1061H1118.600V1075H919ZM919 1089H1118.600V1103H919ZM919 1116H1118.600V1130H919ZM919 1144H1118.600V1158H919ZM919 1172H1118.600V1185H919ZM919 1199H1118.600V1213H919ZM919 1227H1118.600V1241H919Z"/>
<g class="nm" transform="translate(920)"><text y="990" class="u">device_exposure_id</text><text y="1004">person_id</text><text y="1018">device_concept_id</text><text y="1032">device_exposure_start_date</text><text y="1045">device_exposure_start_datetime</text><text y="1059">device_exposure_end_date</text><text y="1073">device_exposure_end_datetime</text><text y="1087">device_type_concept_id</text><text y="1101">unique_device_id</text><text y="1114">production_id</text><text y="1128">quantity</text><text y="1142">provider_id</text><text y="1156">visit_occurrence_id</text><text y="1170">visit_detail_id</text><text y="1183">device_source_value</text><text y="1197">device_source_concept_id</text><text y="1211">unit_concept_id</text><text y="1225">unit_source_value</text><text y="1239">unit_source_concept_id</text></g>
<g class="ty" transform="translate(1066)"><text y="990">INT</text><text y="1004">INT</text><text y="1018">INT</text><text y="1032">DATE</text><text y="1045">DATETIME</text><text y="1059">DATE</text><text y="1073">DATETIME</text><text y="1087">INT</text><text y="1101">VARCHAR</text><text y="1114">VARCHAR</text><text y="1128">INT</text><text y="1142">INT</text><text y="1156">INT</text><text y="1170">INT</text><text y="1183">VARCHAR</text><text y="1197">INT</text><text y="1211">INT</text><text y="1225">VARCHAR</text><text y="1239">INT</text></g></g>

<g id="measurement" class="bl"><rect class="hd" x="1209" y="112" width="211" height="17"/><text class="ht" x="1210.500" y="126">Measurement</text><use href="#idoc" x="1403" y="114"/><rect class="lt" x="1209" y="129" width="211" height="318"/><path class="dk" d="M1209 129H1420V143H1209ZM1209 157H1420V171H1209ZM1209 185H1420V198H1209ZM1209 212H1420V226H1209ZM1209 240H1420V254H1209ZM1209 267H1420V281H1209ZM1209 295H1420V309H1209ZM1209 323H1420V336H1209ZM1209 350H1420V364H1209ZM1209 378H1420V392H1209ZM1209 406H1420V419H1209ZM1209 433H1420V447H1209Z"/>
<g class="nm" transform="translate(1210.500)"><text y="141" class="u">measurement_id</text><text y="155">person_id</text><text y="169">measurement_concept_id</text><text y="183">measurement_date</text><text y="196">measurement_datetime</text><text y="210">measurement_time</text><text y="224">measurement_type_concept_id</text><text y="238">operator_concept_id</text><text y="252">value_as_number</text><text y="265">value_as_concept_id</text><text y="279">unit_concept_id</text><text y="293">range_low</text><text y="307">range_high</text><text y="321">provider_id</text><text y="335">visit_occurrence_id</text><text y="348">visit_detail_id</text><text y="362">measurement_source_value</text><text y="376">measurement_source_concept_id</text><text y="390">unit_source_value</text><text y="404">unit_source_concept_id</text><text y="417">value_source_value</text><text y="431">measurement_event_id</text><text y="445">meas_event_field_concept_id</text></g>
<g class="ty" transform="translate(1364)"><text y="141">INT</text><text y="155">INT</text><text y="169">INT</text><text y="183">DATE</text><text y="196">DATETIME</text><text y="210">VARCHAR</text><text y="224">INT</text><text y="238">INT</text><text y="252">FLOAT</text><text y="265">INT</text><text y="279">INT</text><text y="293">FLOAT</text><text y="307">FLOAT</text><text y="321">INT</text><text y="335">INT</text><text y="348">INT</text><text y="362">VARCHAR</text><text y="376">INT</text><text y="390">VARCHAR</text><text y="404">INT</text><text y="417">VARCHAR</text><text y="431">INT</text><text y="445">INT</text></g></g>

<g id="observation" class="bl"><rect class="hd" x="1209" y="460" width="211" height="17"/><text class="ht" x="1210.500" y="474">Observation</text><use href="#idoc" x="1403" y="461"/><rect class="lt" x="1209" y="477" width="211" height="290"/><path class="dk" d="M1209 477H1420V491H1209ZM1209 505H1420V519H1209ZM1209 532H1420V546H1209ZM1209 560H1420V574H1209ZM1209 588H1420V601H1209ZM1209 615H1420V629H1209ZM1209 643H1420V657H1209ZM1209 670H1420V684H1209ZM1209 698H1420V712H1209ZM1209 726H1420V739H1209ZM1209 753H1420V767H1209Z"/>
<g class="nm" transform="translate(1210.500)"><text y="489" class="u">observation_id</text><text y="503">person_id</text><text y="517">observation_concept_id</text><text y="530">observation_date</text><text y="544">observation_datetime</text><text y="558">observation_type_concept_id</text><text y="572">value_as_number</text><text y="586">value_as_string</text><text y="599">value_as_concept_id</text><text y="613">qualifier_concept_id</text><text y="627">unit_concept_id</text><text y="641">provider_id</text><text y="655">visit_occurrence_id</text><text y="668">visit_detail_id</text><text y="682">observation_source_value</text><text y="696">observation_source_concept_id</text><text y="710">unit_source_value</text><text y="724">qualifier_source_value</text><text y="737">value_source_value</text><text y="751">observation_event_id</text><text y="765">obs_event_field_concept_id</text></g>
<g class="ty" transform="translate(1364)"><text y="489">INT</text><text y="503">INT</text><text y="517">INT</text><text y="530">DATE</text><text y="544">DATETIME</text><text y="558">INT</text><text y="572">FLOAT</text><text y="586">VARCHAR</text><text y="599">INT</text><text y="613">INT</text><text y="627">INT</text><text y="641">INT</text><text y="655">INT</text><text y="668">INT</text><text y="682">VARCHAR</text><text y="696">INT</text><text y="710">VARCHAR</text><text y="724">VARCHAR</text><text y="737">VARCHAR</text><text y="751">INT</text><text y="765">INT</text></g></g>

<g id="note" class="bl"><rect class="hd" x="1209" y="779" width="211" height="17"/><text class="ht" x="1210.500" y="793">Note</text><use href="#idoc" x="1403" y="780"/><rect class="lt" x="1209" y="796" width="211" height="221"/><path class="dk" d="M1209 796H1420V810H1209ZM1209 824H1420V838H1209ZM1209 852H1420V866H1209ZM1209 880H1420V894H1209ZM1209 907H1420V921H1209ZM1209 935H1420V949H1209ZM1209 962H1420V976H1209ZM1209 990H1420V1004H1209Z"/>
<g class="nm" transform="translate(1210.500)"><text y="808" class="u">note_id</text><text y="821">person_id</text><text y="835">note_date</text><text y="849">note_datetime</text><text y="863">note_type_concept_id</text><text y="877">note_class_concept_id</text><text y="891">note_title</text><text y="905">note_text</text><text y="918">encoding_concept_id</text><text y="932">language_concept_id</text><text y="946">provider_id</text><text y="960">visit_occurrence_id</text><text y="973">visit_detail_id</text><text y="987">note_source_value</text><text y="1001">note_event_id</text><text y="1015">note_event_field_concept_id</text></g>
<g class="ty" transform="translate(1364)"><text y="808">INT</text><text y="821">INT</text><text y="835">DATE</text><text y="849">DATETIME</text><text y="863">INT</text><text y="877">INT</text><text y="891">VARCHAR</text><text y="905">VARCHAR</text><text y="918">INT</text><text y="932">INT</text><text y="946">INT</text><text y="960">INT</text><text y="973">INT</text><text y="987">VARCHAR</text><text y="1001">INT</text><text y="1015">INT</text></g></g>

<g id="note_nlp" class="bl"><rect class="hd" x="1209" y="1030" width="211" height="17"/><text class="ht" x="1210.500" y="1044">Note_nlp</text><use href="#idoc" x="1403" y="1031"/><rect class="lt" x="1209" y="1047" width="211" height="193"/><path class="dk" d="M1209 1047H1420V1061H1209ZM1209 1074H1420V1088H1209ZM1209 1102H1420V1116H1209ZM1209 1130H1420V1143H1209ZM1209 1157H1420V1171H1209ZM1209 1185H1420V1199H1209ZM1209 1212H1420V1226H1209Z"/>
<g class="nm" transform="translate(1210.500)"><text y="1059" class="u">note_nlp_id</text><text y="1072">note_id</text><text y="1086">section_concept_id</text><text y="1100">snippet</text><text y="1114">offset</text><text y="1128">lexical_variant</text><text y="1141">note_nlp_concept_id</text><text y="1155">note_nlp_source_concept_id</text><text y="1169">nlp_system</text><text y="1183">nlp_date</text><text y="1197">nlp_datetime</text><text y="1210">term_exists</text><text y="1224">term_temporal</text><text y="1238">term_modifiers</text></g>
<g class="ty" transform="translate(1364)"><text y="1059">INT</text><text y="1072">INT</text><text y="1086">INT</text><text y="1100">VARCHAR</text><text y="1114">VARCHAR</text><text y="1128">VARCHAR</text><text y="1141">INT</text><text y="1155">INT</text><text y="1169">VARCHAR</text><text y="1183">DATE</text><text y="1197">DATETIME</text><text y="1210">VARCHAR</text><text y="1224">VARCHAR</text><text y="1238">VARCHAR</text></g></g>

<g id="specimen" class="bl"><rect class="hd" x="1510" y="112" width="211" height="17"/><text class="ht" x="1511.400" y="125">Specimen</text><use href="#idoc" x="1702" y="114"/><rect class="lt" x="1510" y="129" width="211" height="207"/><path class="dk" d="M1510 129H1721V142H1510ZM1510 156H1721V170H1510ZM1510 184H1721V198H1510ZM1510 211H1721V225H1510ZM1510 239H1721V253H1510ZM1510 267H1721V280H1510ZM1510 294H1721V308H1510ZM1510 322H1721V336H1510Z"/>
<g class="nm" transform="translate(1511.400)"><text y="140" class="u">specimen_id</text><text y="154">person_id</text><text y="168">specimen_concept_id</text><text y="182">specimen_type_concept_id</text><text y="196">specimen_date</text><text y="209">specimen_datetime</text><text y="223">quantity</text><text y="237">unit_concept_id</text><text y="251">anatomic_site_concept_id</text><text y="265">disease_status_concept_id</text><text y="278">specimen_source_id</text><text y="292">specimen_source_value</text><text y="306">unit_source_value</text><text y="320">anatomic_site_source_value</text><text y="334">disease_status_source_value</text></g>
<g class="ty" transform="translate(1665)"><text y="140">INT</text><text y="154">INT</text><text y="168">INT</text><text y="182">INT</text><text y="196">DATE</text><text y="209">DATETIME</text><text y="223">FLOAT</text><text y="237">INT</text><text y="251">INT</text><text y="265">INT</text><text y="278">VARCHAR</text><text y="292">VARCHAR</text><text y="306">VARCHAR</text><text y="320">VARCHAR</text><text y="334">VARCHAR</text></g></g>

<g id="fact_relationship" class="bl"><rect class="hd" x="1510" y="350" width="211" height="17"/><text class="ht" x="1511.400" y="364">Fact_relationship</text><use href="#idoc" x="1702" y="351"/><rect class="lt" x="1510" y="367" width="211" height="69"/><path class="dk" d="M1510 367H1721V381H1510ZM1510 395H1721V409H1510ZM1510 422H1721V436H1510Z"/>
<g class="nm" transform="translate(1511.400)"><text y="379">domain_concept_id_1</text><text y="392">fact_id_1</text><text y="406">domain_concept_id_2</text><text y="420">fact_id_2</text><text y="434">relationship_concept_id</text></g>
<g class="ty" transform="translate(1665)"><text y="379">INT</text><text y="392">INT</text><text y="406">INT</text><text y="420">INT</text><text y="434">INT</text></g></g>

<g id="cost" class="rd"><rect class="hd" x="1511" y="461" width="210" height="17"/><text class="ht" x="1512" y="475">Cost</text><use href="#ipig" x="1703" y="462"/><rect class="lt" x="1511" y="478" width="210" height="303"/><path class="dk" d="M1511 478H1721V492H1511ZM1511 506H1721V520H1511ZM1511 534H1721V548H1511ZM1511 562H1721V575H1511ZM1511 589H1721V603H1511ZM1511 617H1721V631H1511ZM1511 644H1721V658H1511ZM1511 672H1721V686H1511ZM1511 700H1721V713H1511ZM1511 727H1721V741H1511ZM1511 755H1721V769H1511Z"/>
<g class="nm" transform="translate(1512)"><text y="490" class="u">cost_id</text><text y="503">cost_event_id</text><text y="517">cost_domain_id</text><text y="531">cost_type_concept_id</text><text y="545">currency_concept_id</text><text y="559">total_charge</text><text y="572">total_cost</text><text y="586">total_paid</text><text y="600">paid_by_payer</text><text y="614">paid_by_patient</text><text y="628">paid_patient_copay</text><text y="641">paid_patient_coinsurance</text><text y="655">paid_patient_deductible</text><text y="669">paid_by_primary</text><text y="683">paid_ingredient_cost</text><text y="697">paid_dispensing_fee</text><text y="710">payer_plan_period_id</text><text y="724">amount_allowed</text><text y="738">revenue_code_concept_id</text><text y="752">revenue_code_source_value</text><text y="766">drg_concept_id</text><text y="779">drg_source_value</text></g>
<g class="ty" transform="translate(1666)"><text y="490">INT</text><text y="503">INT</text><text y="517">VARCHAR</text><text y="531">INT</text><text y="545">INT</text><text y="559">FLOAT</text><text y="572">FLOAT</text><text y="586">FLOAT</text><text y="600">FLOAT</text><text y="614">FLOAT</text><text y="628">FLOAT</text><text y="641">FLOAT</text><text y="655">FLOAT</text><text y="669">FLOAT</text><text y="683">FLOAT</text><text y="697">FLOAT</text><text y="710">INT</text><text y="724">FLOAT</text><text y="738">INT</text><text y="752">VARCHAR</text><text y="766">INT</text><text y="779">VARCHAR</text></g></g>

<g id="payer_plan_period" class="rd"><rect class="hd" x="1511" y="795" width="210" height="17"/><text class="ht" x="1512" y="809">Payer_plan_period</text><use href="#ipig" x="1703" y="796"/><rect class="lt" x="1511" y="812" width="210" height="235"/><path class="dk" d="M1511 812H1721V826H1511ZM1511 840H1721V854H1511ZM1511 868H1721V881H1511ZM1511 895H1721V909H1511ZM1511 923H1721V937H1511ZM1511 950H1721V964H1511ZM1511 978H1721V992H1511ZM1511 1006H1721V1019H1511ZM1511 1033H1721V1047H1511Z"/>
<g class="nm" transform="translate(1512)"><text y="824" class="u">payer_plan_period_id</text><text y="838">person_id</text><text y="852">payer_plan_period_start_date</text><text y="866">payer_plan_period_end_date</text><text y="879">payer_concept_id</text><text y="893">payer_source_value</text><text y="907">payer_source_concept_id</text><text y="921">plan_concept_id</text><text y="935">plan_source_value</text><text y="948">plan_source_concept_id</text><text y="962">sponsor_concept_id</text><text y="976">sponsor_source_value</text><text y="990">sponsor_source_concept_id</text><text y="1004">family_source_value</text><text y="1017">stop_reason_concept_id</text><text y="1031">stop_reason_source_value</text><text y="1045">stop_reason_source_concept_id</text></g>
<g class="ty" transform="translate(1666)"><text y="824">INT</text><text y="838">INT</text><text y="852">DATE</text><text y="866">DATE</text><text y="879">INT</text><text y="893">VARCHAR</text><text y="907">INT</text><text y="921">INT</text><text y="935">VARCHAR</text><text y="948">INT</text><text y="962">INT</text><text y="976">VARCHAR</text><text y="990">INT</text><text y="1004">VARCHAR</text><text y="1017">INT</text><text y="1031">VARCHAR</text><text y="1045">INT</text></g></g>

<g id="condition_era" class="pu"><rect class="hd" x="1810" y="112" width="211" height="17"/><text class="ht" x="1811.500" y="125">Condition_era</text><use href="#idots" x="2004" y="113"/><rect class="lt" x="1810" y="129" width="211" height="83"/><path class="dk" d="M1810 129H2021V143H1810ZM1810 157H2021V171H1810ZM1810 185H2021V198H1810Z"/>
<g class="nm" transform="translate(1811.500)"><text y="141" class="u">condition_era_id</text><text y="154">person_id</text><text y="168">condition_concept_id</text><text y="182">condition_era_start_date</text><text y="196">condition_era_end_date</text><text y="210">condition_occurrence_count</text></g>
<g class="ty" transform="translate(1965)"><text y="141">INT</text><text y="154">INT</text><text y="168">INT</text><text y="182">DATE</text><text y="196">DATE</text><text y="210">INT</text></g></g>

<g id="drug_era" class="pu"><rect class="hd" x="1810" y="227" width="211" height="16"/><text class="ht" x="1811.500" y="240">Drug_era</text><use href="#idots" x="2004" y="228"/><rect class="lt" x="1810" y="243" width="211" height="97"/><path class="dk" d="M1810 243H2021V257H1810ZM1810 271H2021V285H1810ZM1810 299H2021V312H1810ZM1810 326H2021V340H1810Z"/>
<g class="nm" transform="translate(1811.500)"><text y="255" class="u">drug_era_id</text><text y="269">person_id</text><text y="283">drug_concept_id</text><text y="297">drug_era_start_date</text><text y="310">drug_era_end_date</text><text y="324">drug_exposure_count</text><text y="338">gap_days</text></g>
<g class="ty" transform="translate(1965)"><text y="255">INT</text><text y="269">INT</text><text y="283">INT</text><text y="297">DATE</text><text y="310">DATE</text><text y="324">INT</text><text y="338">INT</text></g></g>

<g id="dose_era" class="pu"><rect class="hd" x="1810" y="355" width="211" height="17"/><text class="ht" x="1811.500" y="369">Dose_era</text><use href="#idots" x="2004" y="356"/><rect class="lt" x="1810" y="372" width="211" height="97"/><path class="dk" d="M1810 372H2021V386H1810ZM1810 400H2021V413H1810ZM1810 427H2021V441H1810ZM1810 455H2021V469H1810Z"/>
<g class="nm" transform="translate(1811.500)"><text y="384" class="u">dose_era_id</text><text y="398">person_id</text><text y="411">drug_concept_id</text><text y="425">unit_concept_id</text><text y="439">dose_value</text><text y="453">dose_era_start_date</text><text y="467">dose_era_end_date</text></g>
<g class="ty" transform="translate(1965)"><text y="384">INT</text><text y="398">INT</text><text y="411">INT</text><text y="425">INT</text><text y="439">FLOAT</text><text y="453">DATE</text><text y="467">DATE</text></g></g>

<g id="episode" class="pu"><rect class="hd" x="1810" y="484" width="211" height="17"/><text class="ht" x="1811.500" y="498">Episode</text><use href="#idots" x="2004" y="485"/><rect class="lt" x="1810" y="501" width="211" height="179"/><path class="dk" d="M1810 501H2021V515H1810ZM1810 528H2021V542H1810ZM1810 556H2021V570H1810ZM1810 584H2021V598H1810ZM1810 611H2021V625H1810ZM1810 639H2021V653H1810ZM1810 667H2021V680H1810Z"/>
<g class="nm" transform="translate(1811.500)"><text y="513" class="u">episode_id</text><text y="526">person_id</text><text y="540">episode_concept_id</text><text y="554">episode_start_date</text><text y="568">episode_start_datetime</text><text y="582">episode_end_date</text><text y="596">episode_end_datetime</text><text y="609">episode_parent_id</text><text y="623">episode_number</text><text y="637">episode_object_concept_id</text><text y="651">episode_type_concept_id</text><text y="665">episode_source_value</text><text y="678">episode_source_concept_id</text></g>
<g class="ty" transform="translate(1965)"><text y="513">INT</text><text y="526">INT</text><text y="540">INT</text><text y="554">DATE</text><text y="568">DATETIME</text><text y="582">DATE</text><text y="596">DATETIME</text><text y="609">INT</text><text y="623">INT</text><text y="637">INT</text><text y="651">INT</text><text y="665">VARCHAR</text><text y="678">INT</text></g></g>

<g id="episode_event" class="pu"><rect class="hd" x="1810" y="695" width="211" height="17"/><text class="ht" x="1811.500" y="709">Episode_event</text><use href="#idots" x="2004" y="696"/><rect class="lt" x="1810" y="712" width="211" height="41"/><path class="dk" d="M1810 712H2021V725H1810ZM1810 739H2021V753H1810Z"/>
<g class="nm" transform="translate(1811.500)"><text y="724">episode_id</text><text y="737">event_id</text><text y="751">episode_event_field_concept_id</text></g>
<g class="ty" transform="translate(1965)"><text y="724">INT</text><text y="737">INT</text><text y="751">INT</text></g></g>

<g id="cohort" class="pu"><rect class="hd" x="1810" y="767" width="211" height="17"/><text class="ht" x="1811.500" y="781">Cohort</text><use href="#idots" x="2004" y="768"/><rect class="lt" x="1810" y="784" width="211" height="56"/><path class="dk" d="M1810 784H2021V798H1810ZM1810 812H2021V826H1810Z"/>
<g class="nm" transform="translate(1811.500)"><text y="796">cohort_definition_id</text><text y="810">subject_id</text><text y="824">cohort_start_date</text><text y="838">cohort_end_date</text></g>
<g class="ty" transform="translate(1965)"><text y="796">INT</text><text y="810">INT</text><text y="824">DATE</text><text y="838">DATE</text></g></g>

<g id="cohort_definition" class="pu"><rect class="hd" x="1810" y="855" width="211" height="17"/><text class="ht" x="1811.500" y="869">Cohort_definition</text><use href="#idots" x="2004" y="856"/><rect class="lt" x="1810" y="872" width="211" height="96"/><path class="dk" d="M1810 872H2021V886H1810ZM1810 900H2021V914H1810ZM1810 927H2021V941H1810ZM1810 955H2021V968H1810Z"/>
<g class="nm" transform="translate(1811.500)"><text y="883">cohort_definition_id</text><text y="897">cohort_definition_name</text><text y="911">cohort_definition_description</text><text y="925">definition_type_concept_id</text><text y="939">cohort_definition_syntax</text><text y="953">subject_concept_id</text><text y="966">cohort_initiation_date</text></g>
<g class="ty" transform="translate(1965)"><text y="883">INT</text><text y="897">VARCHAR</text><text y="911">VARCHAR</text><text y="925">INT</text><text y="939">VARCHAR</text><text y="953">INT</text><text y="966">DATE</text></g></g>

<g id="legend">
<text x="1926" y="1108" text-anchor="middle" style="font-size:33px;fill:#000">Legend</text>
<g class="bl"><rect class="hd" x="1821" y="1119" width="210" height="17"/><text class="ht" x="1823" y="1132">Clinical data tables</text><use href="#idoc" x="2014" y="1120"/></g>
<g class="gr"><rect class="hd" x="1821" y="1136" width="210" height="17"/><text class="ht" x="1823" y="1149">Health system data tables</text><use href="#isteth" x="2014" y="1137"/></g>
<g class="rd"><rect class="hd" x="1821" y="1153" width="210" height="17"/><text class="ht" x="1823" y="1166">Health economics data tables</text><use href="#ipig" x="2014" y="1154"/></g>
<g class="pu"><rect class="hd" x="1821" y="1170" width="210" height="16.500"/><text class="ht" x="1823" y="1183">Standardized derived elements</text><use href="#idots" x="2014" y="1171"/></g>
<g class="gy"><rect class="hd" x="1821" y="1187" width="210" height="16"/><text class="ht" x="1823" y="1199">Metadata tables</text><use href="#iinfo" x="2014" y="1188"/></g>
<g class="or"><rect class="hd" x="1821" y="1203" width="210" height="17"/><text class="ht" x="1823" y="1216">Vocabulary tables</text><use href="#ibank" x="2014" y="1205"/></g>
<text class="u" x="1824" y="1239" style="font-size:11px">Primary key</text>
</g>
</svg>
